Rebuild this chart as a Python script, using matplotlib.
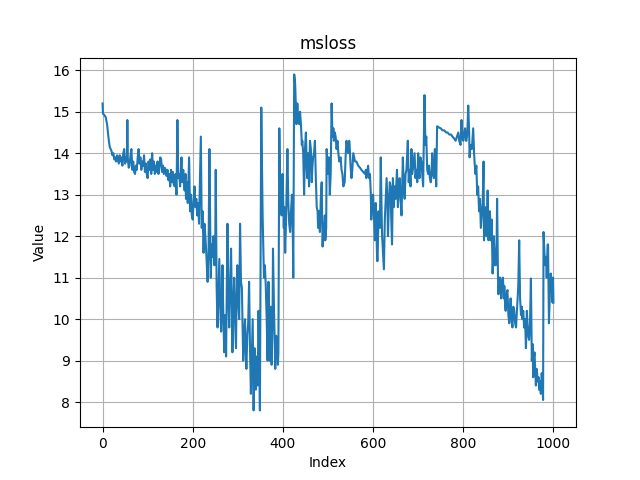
import matplotlib
matplotlib.use("Agg")
import matplotlib.pyplot as plt

# (index, value) readings, in order
idx = [
    0, 1, 4, 7, 10, 12, 14, 16, 18, 20, 22, 24, 26, 28, 30, 32, 34, 36, 38, 40,
    42, 44, 46, 48, 50, 52, 54, 55, 56, 58, 60, 62, 64, 66, 68, 70, 72, 74, 76, 78,
    80, 82, 84, 86, 88, 90, 92, 94, 96, 98, 100, 102, 104, 106, 108, 110, 112, 114, 116, 118,
    120, 122, 124, 126, 128, 130, 132, 134, 136, 138, 140, 142, 144, 146, 148, 150, 152, 154, 156, 158,
    160, 162, 164, 166, 168, 170, 172, 174, 175, 177, 179, 180, 182, 184, 185, 187, 189, 192, 194, 196,
    198, 200, 202, 204, 206, 208, 210, 212, 214, 218, 220, 222, 224, 226, 228, 230, 233, 235, 237, 240,
    242, 244, 246, 248, 250, 251, 253, 255, 257, 259, 261, 263, 265, 266, 268, 270, 272, 274, 277, 279,
    281, 283, 285, 287, 288, 290, 292, 294, 296, 297, 299, 301, 303, 305, 307, 309, 311, 312, 314, 316,
    317, 319, 321, 323, 325, 327, 329, 331, 333, 335, 337, 338, 340, 342, 344, 346, 348, 349, 352, 355,
    357, 358, 360, 362, 364, 366, 368, 370, 371, 373, 374, 375, 377, 378, 380, 383, 385, 387, 389, 390,
    392, 394, 395, 397, 399, 400, 402, 403, 405, 407, 408, 410, 412, 414, 416, 418, 420, 422, 423, 425,
    427, 428, 430, 432, 433, 435, 436, 438, 440, 442, 443, 445, 447, 449, 451, 453, 454, 456, 458, 460,
    462, 464, 465, 467, 469, 471, 473, 475, 477, 478, 480, 482, 484, 486, 488, 490, 491, 493, 494, 496,
    497, 499, 500, 502, 504, 506, 508, 510, 512, 513, 515, 517, 519, 521, 523, 525, 528, 530, 532, 534,
    537, 539, 541, 543, 545, 547, 548, 550, 552, 554, 556, 558, 560, 563, 567, 571, 574, 578, 582, 584,
    585, 587, 589, 591, 593, 595, 596, 598, 600, 602, 604, 606, 607, 609, 610, 612, 614, 615, 617, 619,
    620, 622, 624, 626, 628, 630, 632, 633, 635, 637, 639, 640, 642, 644, 646, 648, 650, 653, 655, 657,
    659, 661, 663, 666, 668, 670, 672, 674, 677, 679, 681, 683, 685, 687, 689, 692, 694, 696, 698, 700,
    701, 703, 705, 707, 709, 711, 714, 716, 718, 720, 722, 724, 726, 728, 730, 731, 733, 735, 737, 739,
    740, 742, 746, 750, 754, 758, 762, 765, 769, 773, 776, 780, 783, 786, 789, 791, 794, 796, 798, 800,
    802, 804, 806, 807, 809, 811, 813, 814, 816, 819, 822, 824, 825, 827, 829, 831, 833, 835, 837, 839,
    841, 843, 845, 846, 848, 850, 852, 854, 856, 858, 859, 861, 863, 865, 867, 868, 870, 872, 874, 875,
    877, 878, 880, 882, 884, 886, 888, 890, 891, 893, 894, 896, 898, 900, 902, 904, 905, 907, 909, 911,
    913, 915, 917, 919, 920, 922, 924, 926, 928, 930, 931, 933, 935, 937, 939, 941, 942, 944, 946, 948,
    950, 952, 954, 955, 956, 958, 960, 961, 963, 965, 967, 968, 970, 972, 974, 976, 977, 978, 980, 982,
    984, 985, 987, 988, 990, 992, 994, 996, 998, 999, 1000,
]
msloss = [
    15.2, 14.95, 14.92, 14.87, 14.7, 14.5, 14.3, 14.15, 14.1, 14.05, 13.95, 14.0, 13.85, 13.9, 13.8, 13.95, 13.85, 13.75, 13.95, 13.8,
    13.9, 13.7, 14.0, 14.1, 13.75, 13.9, 13.8, 14.8, 13.9, 13.65, 13.7, 13.95, 14.1, 13.6, 13.8, 13.55, 13.5, 13.7, 13.6, 13.9,
    14.1, 13.75, 13.9, 13.6, 13.8, 13.7, 13.95, 13.55, 13.75, 13.5, 13.4, 13.8, 13.6, 13.85, 13.5, 14.0, 13.6, 13.8, 13.5, 13.7,
    13.55, 13.8, 13.5, 13.65, 13.9, 13.85, 13.55, 13.7, 13.5, 13.65, 13.6, 13.45, 13.6, 13.35, 13.5, 13.2, 13.6, 13.3, 13.55, 13.25,
    13.2, 13.5, 13.0, 14.8, 13.4, 13.5, 13.2, 13.7, 13.9, 13.3, 13.6, 13.4, 13.1, 13.5, 12.9, 13.3, 12.8, 13.9, 12.6, 13.0,
    12.5, 12.4, 12.9, 13.2, 12.7, 12.9, 12.5, 12.8, 12.3, 14.4, 12.2, 12.6, 11.6, 12.3, 12.0, 11.6, 10.9, 11.5, 14.1, 11.0,
    11.8, 11.5, 12.0, 11.3, 11.9, 13.6, 10.8, 9.8, 10.6, 11.45, 10.3, 9.7, 10.6, 11.3, 10.0, 9.2, 10.1, 9.1, 12.3, 10.5,
    9.8, 10.9, 11.7, 10.2, 9.2, 10.3, 11.0, 9.9, 9.3, 10.4, 11.3, 10.4, 10.0, 12.3, 10.9, 10.75, 9.6, 9.0, 9.6, 10.0,
    9.4, 8.8, 9.6, 9.9, 10.9, 9.3, 8.2, 9.1, 10.0, 7.8, 9.3, 8.6, 8.3, 9.1, 8.4, 10.2, 8.6, 7.8, 15.1, 12.5,
    11.5, 11.0, 11.3, 10.8, 10.0, 9.0, 10.9, 9.8, 9.0, 10.3, 9.4, 8.9, 10.0, 11.7, 10.4, 8.8, 9.6, 9.5, 8.9, 9.2,
    14.6, 13.0, 13.4, 12.5, 13.5, 13.1, 12.2, 12.7, 11.6, 12.4, 13.0, 14.1, 12.8, 12.3, 12.1, 12.6, 13.0, 12.0, 11.0, 15.9,
    15.7, 15.4, 14.7, 15.2, 15.0, 14.8, 14.7, 15.0, 14.7, 14.2, 14.3, 14.0, 13.0, 14.1, 14.5, 13.6, 13.4, 14.0, 13.2, 14.3,
    14.1, 13.3, 13.6, 13.9, 14.0, 14.3, 13.4, 12.7, 12.6, 12.2, 12.6, 12.1, 12.9, 13.3, 11.75, 12.3, 11.9, 12.5, 11.9, 12.2,
    14.1, 13.7, 13.5, 13.9, 13.0, 13.5, 15.2, 14.4, 14.6, 14.3, 14.5, 14.4, 14.1, 14.3, 14.0, 13.8, 13.9, 13.6, 13.5, 13.2,
    13.3, 13.9, 14.3, 14.1, 14.0, 14.3, 14.2, 13.7, 13.4, 13.6, 14.0, 13.9, 13.8, 13.8, 13.7, 13.65, 13.6, 13.55, 13.5, 13.6,
    13.4, 13.55, 13.7, 13.4, 13.5, 13.0, 12.4, 12.9, 13.0, 12.5, 11.9, 12.8, 12.3, 11.4, 11.4, 12.6, 12.2, 12.2, 13.9, 12.5,
    12.0, 11.6, 11.2, 12.4, 12.9, 13.4, 12.7, 12.0, 12.8, 13.3, 13.2, 12.5, 11.8, 13.4, 12.7, 13.2, 12.9, 13.6, 12.7, 13.1,
    13.4, 12.9, 12.5, 13.9, 13.2, 12.9, 13.5, 13.6, 14.3, 13.3, 13.6, 13.2, 14.1, 13.5, 13.7, 14.0, 13.4, 13.6, 13.3, 14.0,
    13.6, 13.4, 13.9, 13.8, 13.5, 13.2, 15.4, 14.2, 14.4, 13.6, 13.5, 13.7, 13.4, 13.3, 13.6, 14.0, 13.5, 13.4, 14.1, 13.6,
    13.2, 14.65, 14.62, 14.6, 14.55, 14.55, 14.5, 14.5, 14.45, 14.45, 14.4, 14.35, 14.3, 14.4, 14.5, 14.3, 14.2, 14.8, 14.4, 14.3,
    14.5, 14.6, 14.3, 14.3, 14.5, 15.15, 14.5, 13.9, 14.2, 14.1, 14.6, 14.0, 13.8, 13.5, 13.7, 13.0, 13.2, 12.6, 12.9, 12.2,
    12.5, 12.8, 13.8, 11.9, 12.4, 12.7, 12.0, 13.1, 11.9, 12.3, 12.6, 11.9, 12.4, 11.1, 11.6, 12.0, 11.3, 11.3, 11.8, 12.9,
    11.0, 10.6, 11.0, 11.0, 10.5, 10.9, 11.0, 10.5, 10.8, 10.3, 10.2, 10.6, 10.7, 10.1, 9.9, 10.3, 10.5, 10.0, 9.8, 10.3,
    10.2, 9.9, 9.8, 10.2, 10.4, 10.8, 11.9, 10.5, 10.1, 10.3, 10.0, 10.2, 9.8, 10.0, 9.3, 10.2, 10.0, 9.6, 9.5, 9.9,
    10.98, 9.0, 9.4, 8.6, 9.0, 9.2, 8.7, 8.4, 8.8, 8.5, 8.6, 8.3, 8.5, 8.2, 8.7, 8.3, 8.05, 12.1, 11.6, 11.3,
    11.5, 11.0, 11.8, 11.8, 9.9, 10.6, 11.1, 10.9, 10.4, 11.0, 10.4,
]

fig, ax = plt.subplots(figsize=(6.4, 4.8), dpi=100)
ax.plot(idx, msloss)
ax.set_title("msloss")
ax.set_xlabel("Index")
ax.set_ylabel("Value")
ax.grid(True)
fig.savefig("out.png")
